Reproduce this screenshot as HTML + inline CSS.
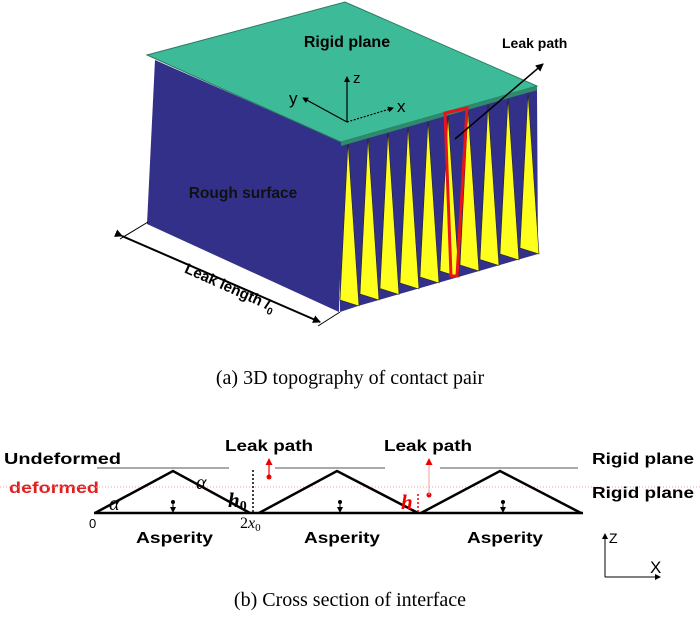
<!DOCTYPE html>
<html><head><meta charset="utf-8"><style>
html,body{margin:0;padding:0;background:#fff;}
svg{display:block;}
.b{font-family:"Liberation Sans","DejaVu Sans",sans-serif;font-weight:bold;}
.s{font-family:"Liberation Serif",serif;}
</style></head><body>
<svg width="700" height="624" viewBox="0 0 700 624" xmlns="http://www.w3.org/2000/svg">
<defs>
<marker id="ah" markerWidth="8" markerHeight="8" refX="7" refY="4" orient="auto" markerUnits="userSpaceOnUse"><path d="M0,0 L8,4 L0,8 z" fill="#000"/></marker>
<marker id="ahr" markerWidth="7" markerHeight="7" refX="6" refY="3.5" orient="auto" markerUnits="userSpaceOnUse"><path d="M0,0 L7,3.5 L0,7 z" fill="#e00"/></marker>
<marker id="ahs" markerWidth="6" markerHeight="6" refX="5" refY="3" orient="auto" markerUnits="userSpaceOnUse"><path d="M0,0 L6,3 L0,6 z" fill="#000"/></marker>
</defs>
<polygon points="155,60 344,143 339,312 147,224" fill="#33308a"/>
<polygon points="340,143 537,90 538,254 358,306 340,312" fill="#33308a"/>
<g fill="#ffff1e" stroke="#222" stroke-width="0.6">
<polygon points="348,142 340,300 359,306"/>
<polygon points="368,136.5 360,294 379,300"/>
<polygon points="388,131 380,288.5 399,294.5"/>
<polygon points="408,125.5 400,283 419,289"/>
<polygon points="428,120 420,277 439,283"/>
<polygon points="448,114.5 440,271 459,277"/>
<polygon points="468,109 460,265 479,271"/>
<polygon points="488,103.5 480,259.5 499,265.5"/>
<polygon points="508,98 500,254 519,260"/>
<polygon points="528,92.5 520,248 539,254"/>
</g>
<polygon points="147,55 345,2 537,86 341,142" fill="#3dbb98" stroke="#2c7a60" stroke-width="1"/>
<polygon points="341,142 537,86 537,90 341,146" fill="#2f8a6c"/>
<polygon points="445,113 467,108 457,276 451,276" fill="none" stroke="#e8141a" stroke-width="3"/>
<line x1="455" y1="139" x2="543" y2="64" stroke="#000" stroke-width="1.5" marker-end="url(#ah)"/>
<text x="502" y="48" class="b" font-size="14">Leak path</text>
<text x="347" y="47" class="b" font-size="16" text-anchor="middle">Rigid plane</text>
<line x1="347" y1="122" x2="347" y2="77" stroke="#000" stroke-width="1.2" marker-end="url(#ahs)"/>
<line x1="347" y1="122" x2="303" y2="98" stroke="#000" stroke-width="1.2" marker-end="url(#ahs)"/>
<line x1="347" y1="122" x2="393" y2="108" stroke="#000" stroke-width="1.2" stroke-dasharray="2,1.5" marker-end="url(#ahs)"/>
<text x="353" y="83" font-family="Liberation Sans,sans-serif" font-size="15">z</text>
<text x="289" y="104" font-family="Liberation Sans,sans-serif" font-size="17">y</text>
<text x="397" y="112" font-family="Liberation Sans,sans-serif" font-size="17">x</text>
<text x="243" y="198" class="b" font-size="15.5" text-anchor="middle" fill="#111">Rough surface</text>
<line x1="122" y1="236" x2="320" y2="322" stroke="#000" stroke-width="2" marker-start="url(#ah)" marker-end="url(#ah)"/>
<line x1="120" y1="239" x2="148" y2="222" stroke="#000" stroke-width="1"/>
<line x1="318" y1="326" x2="340" y2="312" stroke="#000" stroke-width="1"/>
<text transform="translate(228,292) rotate(24)" class="b" font-size="15" text-anchor="middle">Leak length <tspan font-style="italic" font-family="Liberation Serif,serif">l</tspan><tspan font-size="10" dy="4">0</tspan></text>
<text x="350" y="384" class="s" font-size="20" text-anchor="middle">(a) 3D topography of contact pair</text>

<text x="4" y="464" class="b" font-size="16" textLength="117" lengthAdjust="spacingAndGlyphs">Undeformed</text>
<text x="9" y="493" class="b" font-size="16" fill="#e02020" textLength="90" lengthAdjust="spacingAndGlyphs">deformed</text>
<g stroke="#555" stroke-width="1">
<line x1="97" y1="468" x2="229" y2="468"/>
<line x1="275" y1="468" x2="385" y2="468"/>
<line x1="440" y1="468" x2="578" y2="468"/>
</g>
<line x1="0" y1="487" x2="700" y2="487" stroke="#f0a0a0" stroke-width="1" stroke-dasharray="1,2"/>
<g fill="none" stroke="#000" stroke-width="2.5">
<polyline points="95,513 173,471 250,513"/>
<polyline points="259,513 337,471 418,513"/>
<polyline points="421,513 500,471 581,513"/>
<line x1="94" y1="513" x2="583" y2="513"/>
</g>
<line x1="253" y1="470" x2="253" y2="513" stroke="#000" stroke-width="1.5" stroke-dasharray="2,2"/>
<line x1="418" y1="494" x2="418" y2="513" stroke="#e00" stroke-width="1.5" stroke-dasharray="2,2"/>
<text x="225" y="451" class="b" font-size="16" textLength="88" lengthAdjust="spacingAndGlyphs">Leak path</text>
<text x="384" y="451" class="b" font-size="16" textLength="88" lengthAdjust="spacingAndGlyphs">Leak path</text>
<text x="592" y="464" class="b" font-size="16" textLength="102" lengthAdjust="spacingAndGlyphs">Rigid plane</text>
<text x="592" y="498" class="b" font-size="16" textLength="102" lengthAdjust="spacingAndGlyphs">Rigid plane</text>
<circle cx="269" cy="477" r="2.5" fill="#e00"/>
<line x1="269" y1="477" x2="269" y2="459" stroke="#e00" stroke-width="1.2" marker-end="url(#ahr)"/>
<circle cx="429" cy="495" r="2.5" fill="#e00"/>
<line x1="429" y1="495" x2="429" y2="459" stroke="#e8a0a0" stroke-width="1" marker-end="url(#ahr)"/>
<text x="196" y="489" class="s" font-size="20" font-style="italic">α</text>
<text x="109" y="510" class="s" font-size="20" font-style="italic">α</text>
<text x="228" y="507" class="s" font-size="21" font-style="italic" font-weight="bold">h<tspan font-size="14" dy="3" font-style="normal">0</tspan></text>
<text x="401" y="509" class="s" font-size="21" font-style="italic" font-weight="bold" fill="#e00">h</text>
<text x="89" y="528" font-family="Liberation Sans,sans-serif" font-size="13">0</text>
<text x="240" y="528" class="s" font-size="16">2<tspan font-style="italic">x</tspan><tspan font-size="11" dy="3">0</tspan></text>
<g stroke="#000" stroke-width="1">
<line x1="173" y1="502" x2="173" y2="512" marker-end="url(#ahs)"/>
<line x1="340" y1="502" x2="340" y2="512" marker-end="url(#ahs)"/>
<line x1="503" y1="502" x2="503" y2="512" marker-end="url(#ahs)"/>
</g>
<circle cx="173" cy="502" r="2" fill="#000"/><circle cx="340" cy="502" r="2" fill="#000"/><circle cx="503" cy="502" r="2" fill="#000"/>
<text x="136" y="543" class="b" font-size="16" textLength="77" lengthAdjust="spacingAndGlyphs">Asperity</text>
<text x="304" y="543" class="b" font-size="16" textLength="76" lengthAdjust="spacingAndGlyphs">Asperity</text>
<text x="467" y="543" class="b" font-size="16" textLength="76" lengthAdjust="spacingAndGlyphs">Asperity</text>
<line x1="605" y1="577" x2="605" y2="534" stroke="#000" stroke-width="1" marker-end="url(#ahs)"/>
<line x1="605" y1="577" x2="660" y2="577" stroke="#000" stroke-width="1" marker-end="url(#ahs)"/>
<text x="609" y="543" font-family="Liberation Sans,sans-serif" font-size="14">Z</text>
<text x="650" y="573" font-family="Liberation Sans,sans-serif" font-size="17">X</text>
<text x="350" y="606" class="s" font-size="20" text-anchor="middle">(b) Cross section of interface</text>
</svg>
</body></html>
